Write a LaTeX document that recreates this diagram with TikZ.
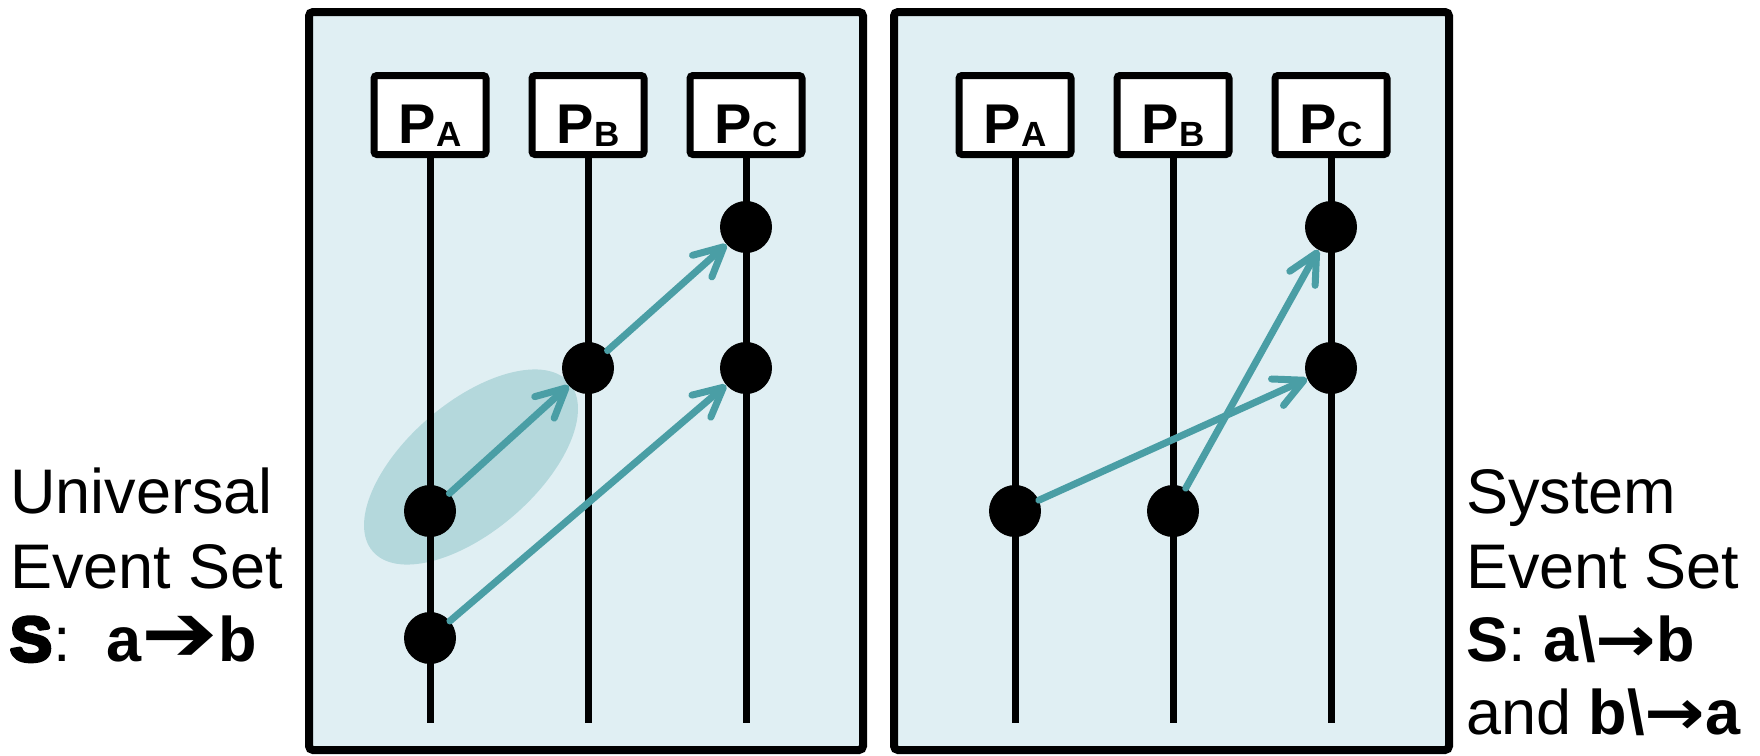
\documentclass[tikz,border=0pt]{standalone}
\usepackage{fontspec}
\usepackage{graphicx}
\setmainfont{Liberation Sans}
\newfontfamily\symfont{DejaVu Sans}
\usetikzlibrary{arrows.meta}
\definecolor{panelbg}{RGB}{224,239,243}
\definecolor{groupfill}{RGB}{180,216,220}
\definecolor{msgcol}{RGB}{74,158,165}

% extra-heavy glyph: bold glyph filled and stroked (text render mode 2)
\newcommand\heavyglyph[1]{%
  \special{pdf:literal direct 0 G 3.5 w 1 j 2 Tr}%
  \hspace{1.75pt}#1\hspace{1.75pt}%
  \special{pdf:literal direct 0 Tr}}
\newcommand\thinarrow{{\symfont\bfseries\scalebox{1.15}[1]{→}}}

\begin{document}
\begin{tikzpicture}[x=1pt,y=-1pt,
  panel/.style={draw=black, line width=8pt, fill=panelbg, rounded corners=4pt},
  pbox/.style={draw=black, fill=white, line width=7pt, rounded corners=3pt,
               minimum width=112pt, minimum height=79pt, inner sep=0pt},
  plabel/.style={font=\bfseries\fontsize{56}{56}\selectfont, inner sep=0pt, anchor=base},
  lifeline/.style={draw=black, line width=7pt},
  event/.style={circle, fill=black, minimum size=52pt, inner sep=0pt},
  msg/.style={draw=msgcol, line width=7pt, line cap=round,
              -{Straight Barb[length=29pt, width=29pt, round]}},
  caption/.style={font=\fontsize{63}{74}\selectfont, inner sep=0pt, anchor=base west}]
\useasboundingbox (0,0) rectangle (1760,755);

% ---- panels ----
\draw[panel] (309,12) rectangle (863,750);
\draw[panel] (894,12) rectangle (1449,750);

% ---- causally related group ----
\fill[groupfill, rotate around={40.6:(471,467)}] (471,467) ellipse [x radius=129.5pt, y radius=64.7pt];

% ---- process headers and lifelines ----
\newcommand\proc[3]{%
  \node[pbox] (#1) at (#2,115) {};
  \node[plabel] at (#2,143) {P\raisebox{-3pt}{\fontsize{35}{35}\selectfont #3}};
  \coordinate (#1end) at (#2,723);
  \draw[lifeline] (#1.south) -- (#1end);}
\proc{lpa}{430}{A}
\proc{lpb}{588}{B}
\proc{lpc}{746}{C}
\proc{rpa}{1015}{A}
\proc{rpb}{1173}{B}
\proc{rpc}{1331}{C}

% ---- events ----
\node[event] (la1) at (430,511) {};
\node[event] (la2) at (430,638) {};
\node[event] (lb1) at (588,368) {};
\node[event] (lc1) at (746,227) {};
\node[event] (lc2) at (746,368) {};
\node[event] (ra1) at (1015,511) {};
\node[event] (rb1) at (1173,511) {};
\node[event] (rc1) at (1331,227) {};
\node[event] (rc2) at (1331,368) {};

% ---- messages ----
\draw[msg] (la1) -- (lb1);
\draw[msg] (lb1) -- (lc1);
\draw[msg] (la2) -- (lc2);
\draw[msg] (ra1) -- (rc2);
\draw[msg] (rb1) -- (rc1);

% ---- captions ----
\node[caption] (u1) at (10,513) {Universal};
\node[caption] (u2) at (10,588) {Event Set};
\node[caption] (u3) at (8,661) {\textbf{\heavyglyph{S}}:\ \ \textbf{a}\scalebox{1.45}[1.3]{\symfont\bfseries ➔}\textbf{b}};
\node[caption] (s1) at (1466,513) {System};
\node[caption] (s2) at (1466,588) {Event Set};
\node[caption] (s3) at (1466,661) {\textbf{S}: \textbf{a\textbackslash\thinarrow b}};
\node[caption] (s4) at (1466,734) {and \textbf{b\textbackslash\thinarrow a}};
\end{tikzpicture}
\end{document}
